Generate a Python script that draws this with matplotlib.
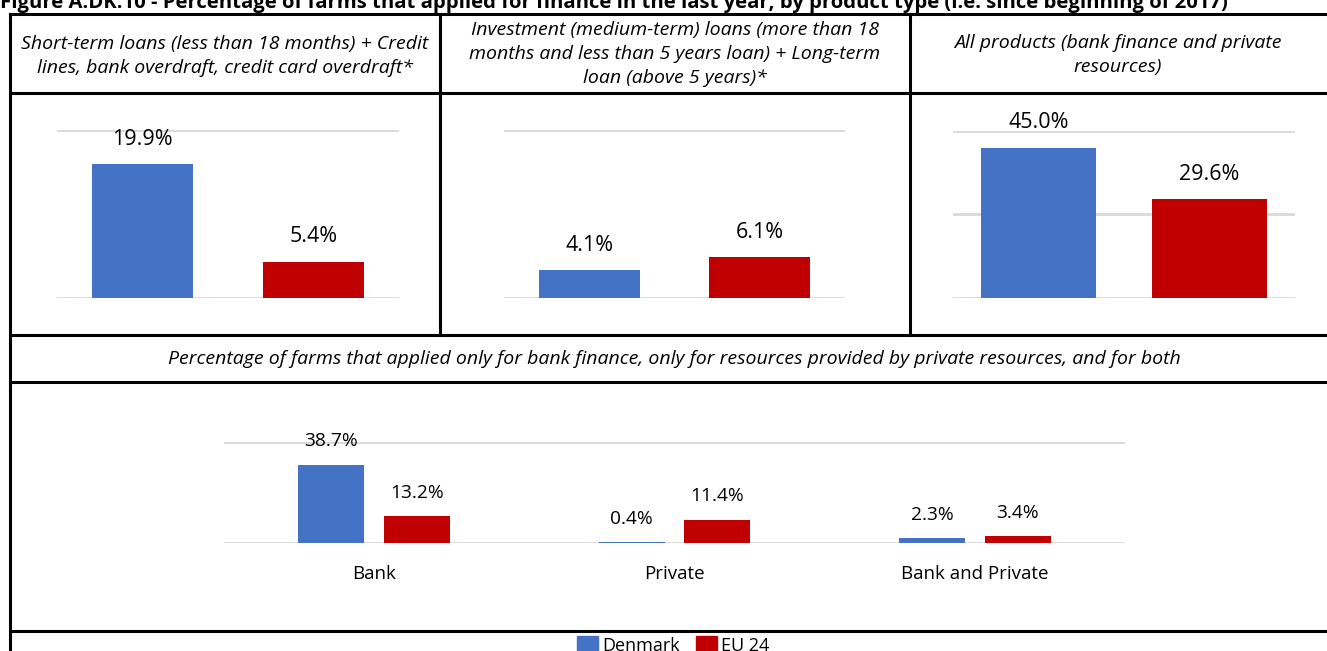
import numpy as np
import matplotlib.pyplot as plt
from matplotlib.lines import Line2D
from matplotlib.patches import Rectangle

plt.rcParams['font.family'] = ['Open Sans', 'DejaVu Sans']

W, H = 1327, 651

# data
series = ['Denmark', 'EU 24']
colors = ['#4472C4', '#C00000']

short_term = [19.9, 5.4]
investment = [4.1, 6.1]
all_products = [45.0, 29.6]

only_cats = ['Bank', 'Private', 'Bank and Private']
only_dk = [38.7, 0.4, 2.3]
only_eu = [13.2, 11.4, 3.4]

headers = [
    'Short-term loans (less than 18 months) + Credit\nlines, bank overdraft, credit card overdraft*',
    'Investment (medium-term) loans (more than 18\nmonths and less than 5 years loan) + Long-term\nloan (above 5 years)*',
    'All products (bank finance and private\nresources)',
]
subtitle = ('Percentage of farms that applied only for bank finance, only for resources '
            'provided by private resources, and for both')
title = ('Figure A.DK.10 - Percentage of farms that applied for finance in the last year, '
         'by product type (i.e. since beginning of 2017)')


def fx(x):
    return x / W


def fy(y):
    return 1 - y / H


def px_axes(x0, y0, x1, y1):
    return fig.add_axes([fx(x0), fy(y1), fx(x1 - x0), (y1 - y0) / H])


def style(ax, ymax, ticks):
    ax.set_ylim(0, ymax)
    ax.set_yticks(ticks)
    ax.yaxis.grid(True, color='#d9d9d9', linewidth=2)
    ax.set_axisbelow(True)
    for s in ax.spines.values():
        s.set_visible(False)
    ax.tick_params(left=False, bottom=False, labelleft=False)


fig = plt.figure(figsize=(W / 100, H / 100), dpi=100)

# table lines
def hline(y, x0=10, x1=W):
    fig.add_artist(Line2D([fx(x0), fx(x1)], [fy(y), fy(y)], color='black', lw=2.2))


def vline(x, y0, y1):
    fig.add_artist(Line2D([fx(x), fx(x)], [fy(y0), fy(y1)], color='black', lw=2.2))


for y in [14, 93, 335, 382, 631]:
    hline(y)
vline(10, 14, 651)
vline(440, 14, 335)
vline(910, 14, 335)

fig.text(0, fy(8), title, fontsize=14.6, fontweight='bold', ha='left', va='baseline')

header_x = [225, 675, 1118]
header_y = [56, 54, 55]
for t, x, y in zip(headers, header_x, header_y):
    fig.text(fx(x), fy(y), t, ha='center', va='center', fontsize=14,
             style='italic', linespacing=1.42)

fig.text(fx(674), fy(359), subtitle, ha='center', va='center', fontsize=14, style='italic')

# top three panels
panels = [
    (short_term, (57, 130, 399, 298), 25, [0, 25], 0.59),
    (investment, (504, 130, 845, 298), 25, [0, 25], 0.59),
    (all_products, (953, 131, 1295, 298), 50, [0, 25, 50], 0.67),
]
for vals, box, ymax, ticks, bw in panels:
    ax = px_axes(*box)
    x = np.arange(len(vals))
    bars = ax.bar(x, vals, width=bw, color=colors)
    ax.set_xlim(-0.5, 1.5)
    style(ax, ymax, ticks)
    ax.tick_params(labelbottom=False)
    for b, v in zip(bars, vals):
        ax.annotate(f'{v:.1f}%', (b.get_x() + b.get_width() / 2, v),
                    xytext=(0, 18), textcoords='offset points',
                    ha='center', va='center', fontsize=15.5)

# bottom panel
ax = px_axes(224, 442, 1125, 543)
x = np.arange(len(only_cats))
bw = 0.22
off = 0.143
b1 = ax.bar(x - off, only_dk, width=bw, color=colors[0])
b2 = ax.bar(x + off, only_eu, width=bw, color=colors[1])
ax.set_xlim(-0.5, 2.5)
style(ax, 50, [0, 50])
ax.set_xticks(x)
ax.set_xticklabels(only_cats, fontsize=13.5)
ax.tick_params(axis='x', pad=12)
for bars, vals in [(b1, only_dk), (b2, only_eu)]:
    for b, v in zip(bars, vals):
        ax.annotate(f'{v:.1f}%', (b.get_x() + b.get_width() / 2, v),
                    xytext=(0, 17), textcoords='offset points',
                    ha='center', va='center', fontsize=13.8)

# legend
leg_x = [577, 696]
for name, c, lx in zip(series, colors, leg_x):
    fig.add_artist(Rectangle((fx(lx), fy(656)), fx(21), 20 / H, color=c, transform=fig.transFigure))
    fig.text(fx(lx + 25), fy(646), name, ha='left', va='center', fontsize=13)

fig.savefig('out.png', dpi=100)
